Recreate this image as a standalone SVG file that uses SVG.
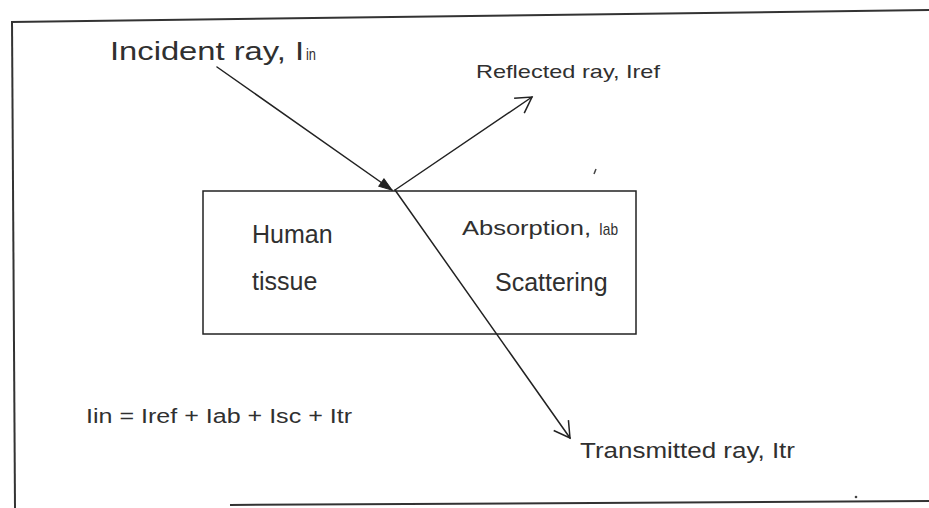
<svg xmlns="http://www.w3.org/2000/svg" width="929" height="508" viewBox="0 0 929 508">
  <style>
    .ln { stroke: #222; stroke-width: 1.5; fill: none; stroke-linecap: round; }
    .frame { stroke: #333; stroke-width: 2; fill: none; }
    .txt { font-family: "Liberation Sans", Arial, sans-serif; fill: #303030; }
    .narrow { font-family: "Liberation Sans Narrow", "Liberation Sans", Arial, sans-serif; fill: #303030; }
  </style>
  <defs>
    <marker id="open" markerUnits="userSpaceOnUse" viewBox="-20 -12 24 24" refX="0" refY="0" markerWidth="24" markerHeight="24" orient="auto" overflow="visible">
      <path d="M-15.5,-9 L0,0 L-15.5,9" fill="none" stroke="#222" stroke-width="1.5"/>
    </marker>
    <marker id="solid" markerUnits="userSpaceOnUse" viewBox="-16 -8 18 16" refX="0" refY="0" markerWidth="18" markerHeight="16" orient="auto" overflow="visible">
      <path d="M-13,-4.5 L0,0 L-13,4.5 Z" fill="#222" stroke="#222" stroke-width="1"/>
    </marker>
  </defs>
  <rect width="929" height="508" fill="#ffffff"/>

  <g id="frame">
    <line class="frame" x1="11" y1="22" x2="929" y2="10"/>
    <line class="frame" x1="12" y1="21" x2="15" y2="508"/>
    <line class="frame" x1="230" y1="505" x2="929" y2="501"/>
  </g>

  <g id="tissue-box">
    <rect x="203" y="191" width="433" height="143" fill="none" stroke="#222" stroke-width="1.5"/>
    <text class="txt" x="252" y="243" font-size="25">Human</text>
    <text class="txt" x="252" y="290" font-size="25">tissue</text>
  </g>

  <g id="incident-label">
    <text class="txt" x="110" y="60" font-size="26" textLength="194" lengthAdjust="spacingAndGlyphs">Incident ray, I</text>
    <text class="txt" x="306" y="60" font-size="17" textLength="10" lengthAdjust="spacingAndGlyphs">in</text>
  </g>

  <g id="reflected-label">
    <text class="txt" x="476" y="78" font-size="19" textLength="184" lengthAdjust="spacingAndGlyphs">Reflected ray, Iref</text>
  </g>

  <g id="absorption-label">
    <text class="txt" x="462" y="235" font-size="20" textLength="129" lengthAdjust="spacingAndGlyphs">Absorption,</text>
    <text class="txt" x="599" y="235" font-size="17" textLength="19" lengthAdjust="spacingAndGlyphs">Iab</text>
  </g>

  <g id="scattering-label">
    <text class="txt" x="495" y="291" font-size="25">Scattering</text>
  </g>

  <g id="transmitted-label">
    <text class="txt" x="580" y="458" font-size="22" textLength="215" lengthAdjust="spacingAndGlyphs">Transmitted ray, Itr</text>
  </g>

  <g id="equation">
    <text class="narrow" x="86" y="423" font-size="20" textLength="266" lengthAdjust="spacingAndGlyphs">Iin = Iref + Iab + Isc + Itr</text>
  </g>

  <g id="connectors">
    <line class="ln" x1="217" y1="67" x2="392" y2="190" marker-end="url(#solid)"/>
    <line class="ln" x1="395" y1="190" x2="532" y2="97" marker-end="url(#open)"/>
    <line class="ln" x1="395" y1="190" x2="570" y2="438" marker-end="url(#open)"/>
  </g>

  <g id="marks">
    <path d="M596,169 L594,174" stroke="#444" stroke-width="1.5"/>
    <circle cx="856" cy="497" r="1.3" fill="#444"/>
  </g>
</svg>
